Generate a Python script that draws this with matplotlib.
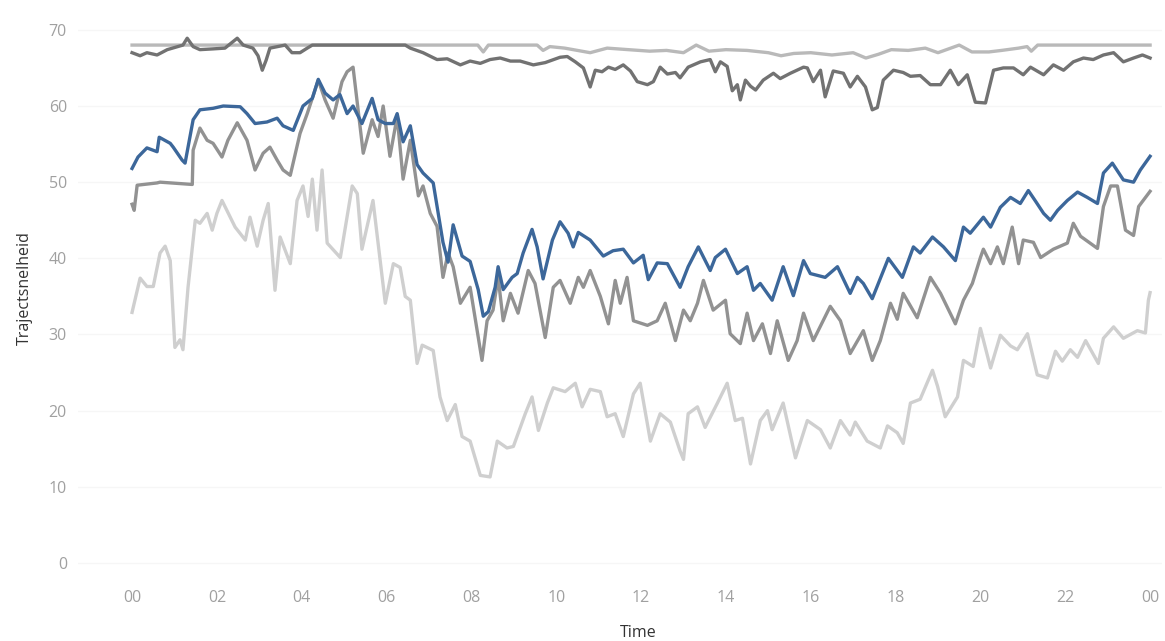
import matplotlib
matplotlib.use("Agg")
import matplotlib.pyplot as plt

# speed profiles over one day (hour of day, trajectory speed km/h)
blue_hours = [0.0, 0.14, 0.35, 0.59, 0.64, 0.90, 0.97, 1.18, 1.25, 1.44, 1.60, 1.91, 2.15, 2.55, 2.71, 2.90,
              3.18, 3.42, 3.56, 3.80, 4.03, 4.25, 4.39, 4.55, 4.74, 4.90, 5.07, 5.21, 5.42, 5.66, 5.80, 5.97,
              6.16, 6.25, 6.39, 6.56, 6.72, 6.86, 7.10, 7.33, 7.45, 7.57, 7.78, 7.97, 8.16, 8.28, 8.40, 8.56,
              8.63, 8.75, 8.96, 9.08, 9.22, 9.43, 9.55, 9.69, 9.91, 10.09, 10.28, 10.40, 10.52, 10.80, 11.11,
              11.34, 11.58, 11.82, 12.05, 12.17, 12.38, 12.62, 12.92, 13.11, 13.35, 13.63, 13.75, 13.99, 14.27,
              14.50, 14.65, 14.81, 15.09, 15.35, 15.59, 15.83, 15.99, 16.34, 16.63, 16.93, 17.10, 17.24, 17.45,
              17.83, 18.16, 18.42, 18.58, 18.87, 19.13, 19.41, 19.60, 19.76, 20.07, 20.24, 20.47, 20.71, 20.94,
              21.13, 21.30, 21.49, 21.65, 21.82, 22.05, 22.29, 22.52, 22.76, 22.90, 23.11, 23.37, 23.61, 23.77,
              24.0]
blue_speed = [51.8, 53.3, 54.5, 54.0, 55.9, 55.1, 54.6, 52.9, 52.5, 58.2, 59.5, 59.7, 60.0, 59.9, 59.0, 57.7,
              57.9, 58.4, 57.4, 56.8, 60.0, 61.0, 63.5, 61.7, 60.8, 61.5, 59.0, 60.0, 57.7, 61.0, 58.2, 57.7,
              57.7, 59.0, 55.3, 57.4, 52.3, 51.2, 49.9, 42.1, 39.5, 44.4, 40.3, 39.6, 35.9, 32.4, 33.0, 36.2,
              38.9, 35.9, 37.5, 38.0, 40.7, 43.8, 41.5, 37.3, 42.4, 44.8, 43.3, 41.5, 43.4, 42.4, 40.3,
              41.0, 41.2, 39.4, 40.4, 37.2, 39.4, 39.3, 36.2, 38.9, 41.5, 38.4, 40.1, 41.2, 38.0,
              38.9, 35.8, 36.7, 34.5, 38.9, 35.1, 39.7, 38.0, 37.5, 38.9, 35.4, 37.5, 36.7, 34.7,
              40.0, 37.5, 41.5, 40.7, 42.8, 41.5, 39.7, 44.1, 43.3, 45.4, 44.1, 46.7, 48.0, 47.2,
              48.9, 47.5, 45.9, 45.0, 46.3, 47.6, 48.7, 48.0, 47.2, 51.2, 52.5, 50.3, 50.0, 51.6,
              53.4]

mid_hours = [0.0, 0.05, 0.12, 0.59, 0.66, 1.42, 1.44, 1.60, 1.77, 1.91, 2.12, 2.26, 2.48, 2.71, 2.90, 3.09,
             3.25, 3.42, 3.56, 3.73, 3.96, 4.13, 4.39, 4.55, 4.74, 4.95, 5.07, 5.21, 5.45, 5.66, 5.80, 5.92,
             6.08, 6.25, 6.39, 6.56, 6.75, 6.86, 7.03, 7.19, 7.33, 7.45, 7.57, 7.74, 7.97, 8.25, 8.37, 8.51,
             8.63, 8.75, 8.92, 9.10, 9.34, 9.50, 9.74, 9.93, 10.09, 10.33, 10.52, 10.64, 10.80, 11.04, 11.23,
             11.39, 11.51, 11.67, 11.82, 12.15, 12.38, 12.57, 12.81, 13.00, 13.16, 13.33, 13.47, 13.70, 13.99,
             14.10, 14.34, 14.50, 14.65, 14.86, 15.05, 15.21, 15.47, 15.68, 15.83, 16.06, 16.46, 16.70, 16.93,
             17.24, 17.45, 17.64, 17.88, 18.04, 18.18, 18.51, 18.82, 19.06, 19.41, 19.60, 19.81, 20.00, 20.07,
             20.24, 20.40, 20.54, 20.75, 20.90, 21.01, 21.25, 21.42, 21.72, 22.05, 22.19, 22.36, 22.76, 22.90,
             23.07, 23.23, 23.42, 23.61, 23.73, 24.0]
mid_speed = [47.1, 46.3, 49.6, 49.9, 50.0, 49.7, 54.2, 57.1, 55.5, 55.1, 53.3, 55.5, 57.8, 55.5, 51.6, 53.8,
             54.6, 52.9, 51.6, 50.9, 56.4, 59.0, 63.4, 60.8, 58.4, 63.2, 64.5, 65.1, 53.8, 58.2, 56.0, 60.0,
             53.4, 58.6, 50.4, 55.5, 48.2, 49.5, 45.9, 44.2, 37.5, 40.7, 38.9, 34.1, 36.2, 26.6, 31.8, 33.2,
             37.5, 31.8, 35.4, 32.8, 38.4, 36.7, 29.6, 36.2, 37.1, 34.1, 37.5, 36.2, 38.4, 35.0, 31.4,
             37.1, 34.1, 37.5, 31.8, 31.2, 31.8, 34.1, 29.2, 33.2, 31.8, 34.1, 37.1, 33.2, 34.5,
             30.1, 28.8, 32.8, 29.2, 31.4, 27.5, 31.8, 26.6, 29.2, 32.8, 29.2, 33.7, 31.8, 27.5,
             30.5, 26.6, 29.2, 34.1, 32.0, 35.4, 32.2, 37.5, 35.4, 31.4, 34.5, 36.7, 40.1, 41.2,
             39.3, 41.5, 39.3, 44.1, 39.3, 42.4, 42.1, 40.1, 41.2, 42.0, 44.6, 42.9, 41.3, 46.8,
             49.5, 49.5, 43.7, 43.0, 46.8, 48.8]

light_hours = [0.0, 0.19, 0.35, 0.50, 0.66, 0.78, 0.90, 1.01, 1.13, 1.20, 1.32, 1.49, 1.60, 1.77, 1.89, 2.00,
               2.12, 2.43, 2.67, 2.78, 2.95, 3.09, 3.21, 3.37, 3.49, 3.73, 3.89, 4.03, 4.15, 4.25, 4.36, 4.48,
               4.60, 4.91, 5.19, 5.31, 5.42, 5.68, 5.80, 5.97, 6.16, 6.32, 6.44, 6.56, 6.72, 6.84, 7.10, 7.26,
               7.43, 7.62, 7.78, 7.97, 8.21, 8.44, 8.61, 8.84, 8.99, 9.27, 9.43, 9.58, 9.79, 9.93, 10.21, 10.45,
               10.61, 10.80, 11.04, 11.20, 11.39, 11.58, 11.82, 11.98, 12.22, 12.45, 12.69, 12.92, 13.00, 13.11,
               13.33, 13.51, 13.80, 14.03, 14.22, 14.39, 14.58, 14.81, 14.98, 15.09, 15.35, 15.64, 15.92, 16.23,
               16.46, 16.70, 16.93, 17.05, 17.33, 17.64, 17.81, 18.04, 18.18, 18.35, 18.58, 18.87, 18.99, 19.17,
               19.46, 19.60, 19.83, 20.00, 20.24, 20.47, 20.71, 20.87, 21.11, 21.34, 21.58, 21.77, 21.93, 22.12,
               22.29, 22.48, 22.78, 22.90, 23.14, 23.37, 23.70, 23.89, 23.96, 24.0]
light_speed = [32.9, 37.4, 36.3, 36.3, 40.7, 41.6, 39.7, 28.3, 29.3, 28.0, 36.2, 45.0, 44.6, 45.9, 43.7, 45.9,
               47.6, 44.1, 42.4, 45.4, 41.6, 45.0, 47.2, 35.8, 42.8, 39.3, 47.6, 49.5, 45.5, 50.4, 43.7, 51.6,
               42.0, 40.1, 49.5, 48.5, 41.2, 47.6, 42.0, 34.1, 39.3, 38.8, 35.0, 34.5, 26.2, 28.6, 27.9, 21.8,
               18.7, 20.8, 16.6, 16.0, 11.5, 11.3, 16.0, 15.1, 15.3, 19.6, 21.8, 17.4, 21.0, 23.0, 22.5, 23.6,
               20.5, 22.8, 22.5, 19.2, 19.6, 16.6, 22.2, 23.6, 16.0, 19.6, 18.5, 14.7, 13.6, 19.6,
               20.5, 17.8, 21.0, 23.6, 18.7, 19.0, 13.0, 18.7, 20.0, 17.5, 21.0, 13.8, 18.7, 17.5,
               15.1, 18.7, 16.8, 18.5, 16.0, 15.1, 18.0, 17.1, 15.7, 21.0, 21.5, 25.3, 23.2, 19.2,
               21.8, 26.6, 25.8, 30.8, 25.6, 29.9, 28.5, 28.0, 30.1, 24.7, 24.3, 27.8, 26.5, 28.0,
               27.0, 29.2, 26.2, 29.5, 31.0, 29.5, 30.5, 30.2, 34.5, 35.5]

dark_hours = [0.0, 0.19, 0.35, 0.59, 0.83, 1.20, 1.30, 1.44, 1.60, 1.91, 2.19, 2.48, 2.62, 2.85, 2.97, 3.07,
              3.16, 3.25, 3.61, 3.77, 3.96, 4.13, 4.25, 6.44, 6.56, 6.86, 7.19, 7.43, 7.74, 7.97, 8.21, 8.44,
              8.68, 8.92, 9.15, 9.46, 9.74, 10.09, 10.26, 10.45, 10.64, 10.80, 10.92, 11.08, 11.23, 11.39, 11.58,
              11.75, 11.91, 12.15, 12.29, 12.45, 12.62, 12.81, 12.92, 13.11, 13.40, 13.63, 13.75, 13.87, 14.03,
              14.15, 14.27, 14.34, 14.46, 14.58, 14.70, 14.88, 15.12, 15.28, 15.52, 15.83, 15.92, 16.06, 16.23,
              16.34, 16.53, 16.77, 16.93, 17.10, 17.29, 17.45, 17.57, 17.71, 17.95, 18.18, 18.35, 18.58, 18.82,
              19.06, 19.29, 19.48, 19.69, 19.88, 20.12, 20.31, 20.54, 20.78, 21.01, 21.18, 21.49, 21.72, 21.96,
              22.19, 22.43, 22.66, 22.90, 23.14, 23.37, 23.61, 23.82, 24.0]
dark_speed = [67.0, 66.6, 67.0, 66.7, 67.4, 68.0, 68.9, 67.8, 67.4, 67.5, 67.6, 68.9, 68.0, 67.6, 66.6, 64.7,
              66.0, 67.6, 68.0, 67.0, 67.0, 67.6, 68.0, 68.0, 67.6, 67.0, 66.1, 66.2, 65.4, 65.9, 65.6, 66.1,
              66.3, 65.9, 65.9, 65.4, 65.7, 66.4, 66.5, 65.8, 65.0, 62.5, 64.7, 64.5, 65.1, 64.8, 65.4,
              64.6, 63.2, 62.8, 63.2, 65.1, 64.2, 64.4, 63.7, 65.1, 65.8, 66.1, 64.5, 65.8, 65.2,
              62.0, 62.8, 60.8, 63.4, 62.6, 62.1, 63.4, 64.3, 63.6, 64.3, 65.1, 65.0, 63.2, 64.7,
              61.2, 64.6, 64.3, 62.5, 63.9, 62.5, 59.5, 59.8, 63.4, 64.7, 64.4, 63.9, 64.0, 62.8,
              62.8, 64.7, 62.8, 64.1, 60.5, 60.4, 64.7, 65.0, 65.0, 64.1, 65.1, 64.1, 65.4, 64.7,
              65.8, 66.3, 66.1, 66.7, 67.0, 65.8, 66.3, 66.7, 66.3]

top_hours = [0.0, 8.15, 8.28, 8.40, 9.55, 9.69, 9.85, 10.2, 10.8, 11.2, 11.7, 12.2, 12.6, 13.0, 13.3, 13.6,
             14.0, 14.5, 15.0, 15.3, 15.6, 16.0, 16.5, 17.0, 17.3, 17.6, 17.9, 18.3, 18.7, 19.0, 19.3, 19.5,
             19.8, 20.2, 20.5, 20.9, 21.1, 21.2, 21.35, 24.0]
top_speed = [68.0, 68.0, 67.1, 68.0, 68.0, 67.3, 67.8, 67.6, 67.0, 67.6, 67.4, 67.2, 67.3, 67.0, 68.0, 67.2,
             67.4, 67.3, 67.0, 66.6, 66.9, 67.0, 66.7, 67.0, 66.3, 66.8, 67.4, 67.3, 67.6, 67.0, 67.6, 68.0,
             67.1, 67.1, 67.3, 67.6, 67.8, 67.2, 68.0, 68.0]

x_ticks = list(range(0, 25, 2))
x_tick_labels = ["00", "02", "04", "06", "08", "10", "12", "14", "16", "18", "20", "22", "00"]
y_ticks = [0, 10, 20, 30, 40, 50, 60, 70]

plt.rcParams["font.family"] = ["Open Sans", "DejaVu Sans"]

fig = plt.figure(figsize=(11.65, 6.41), dpi=100)
ax = fig.add_axes([0.067, 0.103, 0.9305, 0.866])

for y in y_ticks:
    ax.axhline(y, color="#f6f6f6", lw=1.0, zorder=0)

ax.plot(light_hours, light_speed, color="#cfcfcf", lw=2.4, zorder=2)
ax.plot(top_hours, top_speed, color="#b9b9b9", lw=2.4, zorder=3)
ax.plot(dark_hours, dark_speed, color="#727272", lw=2.4, zorder=4)
ax.plot(mid_hours, mid_speed, color="#929292", lw=2.4, zorder=5)
ax.plot(blue_hours, blue_speed, color="#3c679a", lw=2.4, zorder=6)

ax.set_xlim(-1.273, 24.283)
ax.set_ylim(-1.576, 71.31)
ax.set_xticks(x_ticks)
ax.set_xticklabels(x_tick_labels)
ax.set_yticks(y_ticks)
ax.tick_params(axis="both", length=0, colors="#a0a0a0", labelsize=11.5)
ax.tick_params(axis="x", pad=11)
ax.tick_params(axis="y", pad=8)

for s in ax.spines.values():
    s.set_visible(False)

ax.set_ylabel("Trajectsnelheid", fontsize=11.5, color="#333333")
ax.yaxis.set_label_coords(-0.0415, 0.517)
ax.set_xlabel("Time", fontsize=11.5, color="#333333")
ax.xaxis.set_label_coords(0.517, -0.090)

fig.savefig("out.png", dpi=100, facecolor="white")
